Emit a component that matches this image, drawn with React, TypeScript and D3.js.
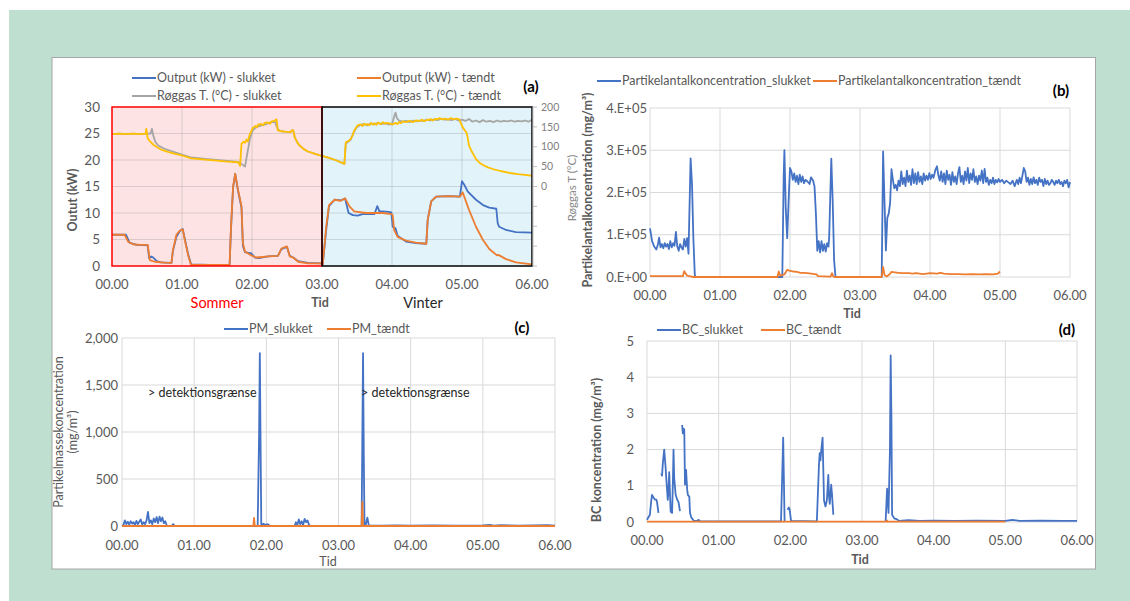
import * as d3 from "d3";

// time in hours (00.00 - 06.00)
type Pt = [number, number | null];

const hourTicks = [0, 1, 2, 3, 4, 5, 6];

// (a) output in kW
const outputSlukket: Pt[] = [
  [0, 5.9], [0.2, 5.9], [0.25, 4.4], [0.35, 4.0], [0.51, 3.9], [0.53, 1.5], [0.56, 1.8], [0.59, 1.6],
  [0.64, 0.9], [0.7, 0.7], [0.85, 0.6], [0.87, 2.8], [0.92, 5.5], [0.97, 6.6], [1.01, 7.0], [1.05, 4.5],
  [1.09, 2.1], [1.13, 0.3], [1.4, 0.2], [1.68, 0.2], [1.7, 7.0], [1.73, 14.8], [1.76, 17.4], [1.8, 14.2],
  [1.85, 11.0], [1.87, 3.8], [1.9, 2.6], [1.94, 2.5], [1.99, 2.4], [2.04, 1.6], [2.1, 1.5], [2.23, 1.8],
  [2.37, 1.9], [2.42, 3.2], [2.5, 3.6], [2.54, 1.9], [2.59, 1.6], [2.66, 0.9], [2.8, 0.6], [3.0, 0.5],
  [3.01, 0.2], [3.06, 6.8], [3.1, 11.3], [3.18, 12.5], [3.27, 12.4], [3.33, 12.7], [3.38, 10.0], [3.44, 9.6],
  [3.51, 9.5], [3.58, 9.8], [3.75, 9.8], [3.79, 11.3], [3.82, 10.3], [3.87, 10.3], [3.95, 10.2], [3.99, 10.1],
  [4.01, 7.4], [4.05, 7.1], [4.08, 5.7], [4.2, 4.6], [4.34, 4.3], [4.49, 4.2], [4.51, 8.7], [4.56, 12.2],
  [4.63, 13.1], [4.82, 13.2], [4.97, 13.1], [5.0, 16.0], [5.03, 15.4], [5.08, 14.1], [5.2, 12.5], [5.3, 11.5],
  [5.39, 11.0], [5.49, 10.8], [5.51, 8.1], [5.53, 7.4], [5.63, 6.8], [5.77, 6.4], [6.0, 6.3],
];
const outputTaendt: Pt[] = [
  [0, 5.9], [0.18, 5.9], [0.23, 4.6], [0.3, 4.1], [0.4, 4.0], [0.51, 4.0], [0.54, 1.1], [0.61, 0.8],
  [0.75, 0.65], [0.85, 0.6], [0.87, 3.0], [0.92, 5.9], [0.97, 6.7], [1.01, 6.9], [1.05, 4.3], [1.09, 1.9],
  [1.13, 0.2], [1.4, 0.2], [1.68, 0.2], [1.7, 7.4], [1.73, 15.0], [1.76, 17.4], [1.8, 14.4], [1.85, 11.3],
  [1.87, 4.3], [1.9, 2.7], [1.94, 2.4], [1.99, 2.0], [2.06, 1.6], [2.15, 1.7], [2.23, 1.8], [2.37, 1.9],
  [2.42, 3.3], [2.5, 3.7], [2.54, 1.8], [2.59, 1.6], [2.66, 0.8], [2.8, 0.5], [3.0, 0.5], [3.01, 0.2],
  [3.06, 7.4], [3.1, 11.5], [3.18, 12.5], [3.27, 12.3], [3.33, 12.8], [3.39, 11.3], [3.46, 10.3], [3.63, 10.0],
  [3.87, 10.0], [3.99, 9.8], [4.01, 9.6], [4.03, 6.8], [4.08, 5.5], [4.2, 4.8], [4.34, 4.4], [4.49, 4.2],
  [4.51, 8.7], [4.56, 12.2], [4.63, 13.1], [4.82, 13.2], [4.97, 13.1], [5.01, 13.9], [5.1, 10.6], [5.2, 7.4],
  [5.3, 4.9], [5.39, 3.2], [5.5, 2.0], [5.52, 2.1], [5.63, 1.3], [5.77, 0.7], [6.0, 0.3],
];

// (a) flue gas temperature in °C (right axis)
const roggasSlukket: Pt[] = [
  [0, 132], [0.1, 133], [0.2, 132], [0.3, 133], [0.4, 132], [0.5, 133], [0.55, 133], [0.57, 145], [0.59, 128],
  [0.62, 112], [0.66, 103], [0.75, 95], [0.9, 86], [1.13, 73], [1.37, 69], [1.61, 65], [1.8, 62], [1.85, 57],
  [1.9, 50], [1.92, 70], [1.95, 100], [1.97, 120], [2.01, 141], [2.05, 148], [2.1, 152], [2.2, 157], [2.28, 162],
  [2.33, 162], [2.37, 143], [2.42, 139], [2.47, 138], [2.55, 137], [2.57, 141], [2.59, 141], [2.61, 124],
  [2.65, 110], [2.68, 103], [2.74, 94], [2.8, 88], [2.9, 82], [3.0, 77], [3.1, 72], [3.2, 66], [3.28, 60],
  [3.32, 57], [3.34, 108], [3.37, 112], [3.41, 118], [3.45, 135], [3.5, 150], [3.55, 155], [3.6, 157],
  [3.65, 154], [3.7, 159], [3.75, 156], [3.8, 160], [3.85, 157], [3.9, 159], [3.95, 156], [4.0, 157],
  [4.03, 175], [4.05, 186], [4.07, 172], [4.1, 166], [4.15, 163], [4.2, 165], [4.25, 162], [4.3, 166],
  [4.35, 164], [4.4, 166], [4.45, 165], [4.5, 168], [4.55, 166], [4.6, 169], [4.65, 167], [4.7, 170],
  [4.75, 168], [4.8, 169], [4.85, 167], [4.9, 170], [4.95, 166], [5.0, 168], [5.05, 165], [5.1, 170],
  [5.15, 163], [5.2, 166], [5.25, 162], [5.3, 167], [5.35, 163], [5.4, 165], [5.45, 162], [5.5, 166],
  [5.55, 163], [5.6, 165], [5.65, 164], [5.7, 166], [5.75, 163], [5.8, 165], [5.85, 164], [5.9, 166],
  [5.95, 163], [6.0, 168],
];
const roggasTaendt: Pt[] = [
  [0, 132], [0.1, 133], [0.2, 132], [0.3, 133], [0.4, 132], [0.48, 133], [0.49, 145], [0.51, 121], [0.55, 112],
  [0.59, 105], [0.65, 98], [0.7, 93], [0.8, 87], [0.9, 82], [1.0, 78], [1.13, 71], [1.25, 69], [1.37, 67],
  [1.5, 65], [1.61, 63], [1.7, 62], [1.8, 61], [1.82, 56], [1.83, 52], [1.85, 107], [1.88, 113], [1.9, 110],
  [1.92, 118], [1.94, 113], [1.97, 132], [2.01, 147], [2.05, 152], [2.07, 149], [2.09, 156], [2.13, 157],
  [2.16, 154], [2.18, 160], [2.23, 161], [2.26, 158], [2.28, 164], [2.32, 165], [2.35, 169], [2.37, 141],
  [2.42, 139], [2.47, 138], [2.55, 137], [2.57, 141], [2.59, 141], [2.61, 124], [2.65, 110], [2.68, 103],
  [2.74, 94], [2.8, 88], [2.9, 82], [3.0, 77], [3.1, 72], [3.2, 66], [3.28, 60], [3.32, 57], [3.34, 111],
  [3.37, 114], [3.39, 116], [3.41, 120], [3.44, 130], [3.46, 141], [3.51, 154], [3.55, 156], [3.58, 152],
  [3.6, 158], [3.63, 155], [3.65, 157], [3.68, 154], [3.7, 160], [3.73, 156], [3.75, 159], [3.78, 155],
  [3.8, 161], [3.84, 157], [3.87, 162], [3.9, 158], [3.93, 160], [3.97, 158], [4.01, 156], [4.05, 160],
  [4.08, 157], [4.1, 162], [4.13, 159], [4.15, 164], [4.2, 162], [4.25, 165], [4.3, 162], [4.34, 166],
  [4.4, 165], [4.43, 168], [4.46, 164], [4.5, 168], [4.52, 167], [4.55, 170], [4.58, 166], [4.62, 170],
  [4.65, 169], [4.68, 172], [4.72, 169], [4.76, 171], [4.8, 168], [4.84, 172], [4.88, 169], [4.92, 171],
  [4.96, 169], [5.01, 149], [5.04, 141], [5.06, 137], [5.08, 125], [5.1, 103], [5.14, 88], [5.2, 69],
  [5.25, 60], [5.3, 54], [5.37, 48], [5.44, 44], [5.55, 39], [5.68, 34], [5.8, 31], [5.9, 29], [6.0, 27],
];

// (b) particle number, in units of 1E+05
const antalSlukket: Pt[] = [
  [0, 1.15], [0.03, 0.85], [0.06, 0.72], [0.09, 0.65], [0.11, 0.75], [0.13, 0.93], [0.15, 0.7], [0.17, 0.78],
  [0.19, 0.68], [0.21, 0.8], [0.23, 0.72], [0.25, 0.78], [0.27, 0.66], [0.29, 0.85], [0.31, 0.7], [0.33, 0.8],
  [0.35, 0.74], [0.37, 1.07], [0.39, 0.72], [0.41, 0.62], [0.43, 0.78], [0.45, 0.7], [0.47, 0.65], [0.49, 0.9],
  [0.51, 0.72], [0.53, 0.92], [0.55, 0.55], [0.58, 2.81], [0.6, 2.2], [0.62, 0.9], [0.64, 0.05], [0.65, 0],
  [1.89, 0], [1.91, 2.4], [1.92, 3.0], [1.94, 1.6], [1.96, 0.92], [1.98, 1.8], [2.0, 2.58], [2.02, 2.5],
  [2.04, 2.3], [2.06, 2.45], [2.08, 2.25], [2.1, 2.4], [2.12, 2.2], [2.14, 2.42], [2.16, 2.25], [2.18, 2.38],
  [2.2, 2.22], [2.22, 2.3], [2.25, 2.26], [2.28, 2.2], [2.3, 2.36], [2.33, 2.28], [2.35, 2.15], [2.37, 1.5],
  [2.39, 0.62], [2.41, 0.85], [2.43, 0.58], [2.45, 0.85], [2.47, 0.62], [2.49, 0.78], [2.51, 0.6], [2.53, 0.8],
  [2.55, 0.72], [2.56, 0.95], [2.58, 2.2], [2.59, 2.8], [2.61, 1.8], [2.63, 0.4], [2.65, 0], [3.31, 0],
  [3.33, 2.97], [3.35, 1.8], [3.37, 0.63], [3.39, 1.4], [3.41, 1.5], [3.43, 1.75], [3.45, 2.55], [3.47, 2.3],
  [3.49, 2.1], [3.51, 2.18], [3.53, 2.05], [3.55, 2.28], [3.57, 2.15], [3.59, 2.5], [3.61, 2.2], [3.63, 2.35],
  [3.65, 2.15], [3.67, 2.52], [3.69, 2.25], [3.71, 2.4], [3.73, 2.18], [3.75, 2.55], [3.77, 2.22], [3.79, 2.45],
  [3.81, 2.2], [3.83, 2.48], [3.85, 2.25], [3.87, 2.38], [3.89, 2.2], [3.91, 2.45], [3.93, 2.28], [3.95, 2.4],
  [3.97, 2.3], [3.99, 2.46], [4.01, 2.32], [4.03, 2.42], [4.05, 2.35], [4.08, 2.55], [4.1, 2.62], [4.12, 2.4],
  [4.14, 2.28], [4.16, 2.5], [4.18, 2.25], [4.2, 2.45], [4.22, 2.2], [4.24, 2.52], [4.26, 2.3], [4.28, 2.42],
  [4.3, 2.18], [4.32, 2.48], [4.34, 2.25], [4.36, 2.38], [4.38, 2.2], [4.4, 2.45], [4.42, 2.6], [4.44, 2.25],
  [4.46, 2.4], [4.48, 2.2], [4.5, 2.5], [4.52, 2.28], [4.54, 2.58], [4.56, 2.22], [4.58, 2.45], [4.6, 2.3],
  [4.62, 2.55], [4.64, 2.25], [4.66, 2.38], [4.68, 2.2], [4.7, 2.4], [4.72, 2.28], [4.74, 2.52], [4.76, 2.22],
  [4.78, 2.56], [4.8, 2.25], [4.82, 2.35], [4.84, 2.18], [4.86, 2.3], [4.88, 2.22], [4.9, 2.35], [4.92, 2.2],
  [4.94, 2.3], [4.96, 2.24], [4.98, 2.32], [5.0, 2.25], [5.03, 2.3], [5.06, 2.22], [5.09, 2.28], [5.12, 2.24],
  [5.15, 2.2], [5.18, 2.28], [5.21, 2.15], [5.24, 2.3], [5.26, 2.2], [5.28, 2.35], [5.3, 2.22], [5.32, 2.4],
  [5.34, 2.58], [5.36, 2.5], [5.38, 2.25], [5.4, 2.35], [5.42, 2.18], [5.44, 2.32], [5.46, 2.2], [5.48, 2.36],
  [5.5, 2.22], [5.52, 2.3], [5.54, 2.18], [5.56, 2.35], [5.58, 2.25], [5.6, 2.3], [5.62, 2.15], [5.64, 2.32],
  [5.66, 2.2], [5.68, 2.28], [5.7, 2.18], [5.72, 2.22], [5.74, 2.3], [5.76, 2.25], [5.78, 2.18], [5.8, 2.28],
  [5.82, 2.22], [5.84, 2.3], [5.86, 2.2], [5.88, 2.25], [5.9, 2.15], [5.92, 2.28], [5.94, 2.22], [5.96, 2.3],
  [5.98, 2.12], [6.0, 2.25],
];
const antalTaendt: Pt[] = [
  [0, 0.02], [0.47, 0.02], [0.49, 0.14], [0.51, 0.08], [0.53, 0.03], [0.56, 0.02], [0.62, 0], [1.82, 0],
  [1.84, 0.13], [1.86, 0.03], [1.88, 0.04], [1.92, 0.06], [1.96, 0.17], [1.99, 0.15], [2.05, 0.13], [2.1, 0.12],
  [2.15, 0.1], [2.2, 0.1], [2.25, 0.09], [2.3, 0.08], [2.35, 0.07], [2.38, 0.06], [2.4, 0.02], [2.58, 0.01],
  [2.6, 0.09], [2.62, 0.01], [2.65, 0], [3.31, 0], [3.33, 0.24], [3.35, 0.05], [3.38, 0.01], [3.42, 0.06],
  [3.45, 0.12], [3.5, 0.11], [3.55, 0.1], [3.6, 0.09], [3.7, 0.09], [3.75, 0.08], [3.8, 0.09], [3.9, 0.07],
  [4.0, 0.09], [4.1, 0.08], [4.15, 0.1], [4.2, 0.08], [4.3, 0.07], [4.4, 0.07], [4.5, 0.06], [4.6, 0.07],
  [4.7, 0.06], [4.8, 0.07], [4.9, 0.06], [4.97, 0.08], [5.0, 0.13],
];

// (c) particle mass, mg/m³
const pmSlukket: Pt[] = [
  [0, 0], [0.02, 10], [0.04, 60], [0.06, 20], [0.08, 45], [0.1, 15], [0.12, 50], [0.14, 25], [0.16, 40],
  [0.18, 10], [0.2, 55], [0.22, 20], [0.24, 45], [0.26, 70], [0.28, 15], [0.3, 40], [0.32, 20], [0.34, 60],
  [0.36, 150], [0.38, 30], [0.4, 60], [0.42, 20], [0.44, 80], [0.46, 40], [0.48, 95], [0.5, 30], [0.52, 100],
  [0.54, 50], [0.56, 90], [0.58, 30], [0.6, 50], [0.62, 5], [0.64, 0], [0.69, 0], [0.71, 20], [0.73, 0],
  [1.88, 0], [1.9, 1000], [1.91, 1840], [1.92, 900], [1.93, 0], [1.96, 25], [1.99, 10], [2.02, 20], [2.05, 0],
  [2.39, 0], [2.41, 40], [2.43, 10], [2.45, 70], [2.47, 20], [2.49, 50], [2.51, 10], [2.53, 75], [2.55, 40],
  [2.57, 60], [2.59, 15], [2.61, 0], [3.32, 0], [3.33, 900], [3.34, 1840], [3.35, 800], [3.36, 0], [3.38, 20],
  [3.4, 90], [3.42, 5], [3.6, 4], [3.8, 6], [4.0, 4], [4.3, 6], [4.6, 5], [5.0, 6], [5.1, 12], [5.15, 4],
  [5.25, 8], [5.5, 5], [5.9, 8], [6.0, 4],
];
const pmTaendt: Pt[] = [
  [0, 0], [1.82, 0], [1.83, 85], [1.84, 0], [3.32, 0], [3.33, 260], [3.34, 0], [6.0, 0],
];

// (d) black carbon, mg/m³ (null = gap in the series)
const bcSlukket: Pt[] = [
  [0, 0.06], [0.02, 0.13], [0.04, 0.2], [0.06, 0.6], [0.07, 0.75], [0.09, 0.68], [0.11, 0.62], [0.13, 0.62],
  [0.14, 0.55], [0.16, 0.25], [0.18, null], [0.2, 1.35], [0.21, 1.28], [0.22, 1.6], [0.24, 2.0], [0.26, 1.5],
  [0.27, 1.17], [0.29, 0.61], [0.3, 0.9], [0.31, 1.38], [0.32, 0.8], [0.33, 0.29], [0.35, 0.25], [0.36, 1.0],
  [0.37, 2.0], [0.38, 1.2], [0.4, 0.75], [0.42, 0.62], [0.44, 0.55], [0.46, 0.3], [0.47, null], [0.49, 2.68],
  [0.5, 2.45], [0.51, 2.58], [0.52, 2.55], [0.53, 1.03], [0.545, 1.44], [0.56, 0.9], [0.57, 0.75], [0.59, 0.7],
  [0.6, 0.25], [0.62, 0.12], [0.65, 0.04], [0.7, 0.03], [0.72, 0.06], [0.74, 0.02], [1.87, 0.02], [1.9, 2.33],
  [1.92, 0.02], [1.94, null], [1.96, 0.34], [1.98, 0.4], [1.99, 0.35], [2.01, 0.03], [2.37, 0.02], [2.4, 1.6],
  [2.41, 1.9], [2.42, 1.7], [2.43, 1.95], [2.45, 2.33], [2.47, 0.6], [2.49, 0.43], [2.51, 0.6], [2.53, 1.3],
  [2.54, 0.7], [2.55, 0.5], [2.57, 1.03], [2.58, 0.8], [2.6, 0.2], [2.62, null], [3.33, 0.02], [3.35, 0.92],
  [3.36, 0.6], [3.37, 0.25], [3.39, 2.0], [3.4, 4.6], [3.41, 3.0], [3.42, 0.2], [3.45, 0.1], [3.48, 0.08],
  [3.52, 0.03], [3.65, 0.05], [3.8, 0.03], [4.0, 0.04], [4.3, 0.03], [4.6, 0.04], [5.0, 0.03], [5.1, 0.06],
  [5.2, 0.03], [5.5, 0.04], [5.8, 0.03], [6.0, 0.03],
];
const bcTaendt: Pt[] = [
  [0, 0.01], [3.34, 0.01], [3.35, 0.04], [3.36, 0.01], [5.0, 0.01],
];

const panelATempTicks = [-200, -150, -100, -50, 0, 50, 100, 150, 200];

const BLUE = "#4472c4";
const ORANGE = "#ed7d31";
const GREY = "#a5a5a5";
const YELLOW = "#ffc000";
const TXT = "#595959";
const GRID = "#d9d9d9";
const FONT = "Lato, 'Open Sans', sans-serif";
const FS = 12.5;

const hourFmt = (h: number) => `0${h}.00`;

function Series({ data, x, y, color, width = 1.8 }: { data: Pt[]; x: d3.ScaleLinear<number, number>; y: d3.ScaleLinear<number, number>; color: string; width?: number }) {
  const line = d3
    .line<Pt>()
    .defined((d) => d[1] != null)
    .x((d) => x(d[0]))
    .y((d) => y(d[1] as number));
  return <path d={line(data) ?? ""} fill="none" stroke={color} strokeWidth={width} strokeLinejoin="round" />;
}

function LegendItem({ x, y, color, label }: { x: number; y: number; color: string; label: string }) {
  return (
    <g>
      <line x1={x} x2={x + 24} y1={y} y2={y} stroke={color} strokeWidth={2} />
      <text x={x + 25} y={y} dy="0.35em" fontSize={FS} fill={TXT}>{label}</text>
    </g>
  );
}

function VLabel({ x, y, text, bold = false, size = FS, color = TXT }: { x: number; y: number; text: string; bold?: boolean; size?: number; color?: string }) {
  return (
    <text transform={`translate(${x},${y}) rotate(-90)`} textAnchor="middle" dy="0.35em" fontSize={size} fontWeight={bold ? 700 : 400} fill={color}>
      {text}
    </text>
  );
}

function PanelA() {
  const x = d3.scaleLinear().domain([0, 6]).range([112, 532]);
  const y = d3.scaleLinear().domain([0, 30]).range([266, 107]);
  const yT = d3.scaleLinear().domain([-200, 200]).range([266, 107]);
  const yTicks = d3.range(0, 31, 5);
  return (
    <g>
      <rect x={x(0)} y={y(30)} width={x(3) - x(0)} height={y(0) - y(30)} fill="#fde3e3" />
      <rect x={x(3)} y={y(30)} width={x(6) - x(3)} height={y(0) - y(30)} fill="#e2f3fa" />
      {yTicks.slice(1, -1).map((t) => (
        <line key={t} x1={x(0)} x2={x(6)} y1={y(t)} y2={y(t)} stroke="rgba(110,110,110,0.22)" strokeWidth={1} />
      ))}
      {[1, 2, 4, 5].map((h) => (
        <line key={h} x1={x(h)} x2={x(h)} y1={y(0)} y2={y(30)} stroke="rgba(110,110,110,0.22)" strokeWidth={1} />
      ))}
      <Series data={outputSlukket} x={x} y={y} color={BLUE} />
      <Series data={outputTaendt} x={x} y={y} color={ORANGE} />
      <Series data={roggasSlukket} x={x} y={yT} color={GREY} />
      <Series data={roggasTaendt} x={x} y={yT} color={YELLOW} />
      <rect x={x(0)} y={y(30)} width={x(3) - x(0)} height={y(0) - y(30)} fill="none" stroke="#ff0000" strokeWidth={1.5} />
      <rect x={x(3)} y={y(30)} width={x(6) - x(3)} height={y(0) - y(30)} fill="none" stroke="#000" strokeWidth={1.5} />
      {yTicks.map((t) => (
        <text key={t} x={100} y={y(t)} dy="0.35em" textAnchor="end" fontSize={13.5} fill={TXT}>{t}</text>
      ))}
      <line x1={x(6) + 1} x2={x(6) + 1} y1={yT(-200)} y2={yT(200)} stroke="#bfbfbf" />
      {panelATempTicks.map((t) => (
        <g key={t}>
          <line x1={x(6) + 1} x2={x(6) + 5} y1={yT(t)} y2={yT(t)} stroke="#bfbfbf" />
          {t >= 0 && (
            <text x={x(6) + 9} y={yT(t)} dy="0.35em" fontSize={10.5} fill="#7f7f7f">{t}</text>
          )}
        </g>
      ))}
      {hourTicks.map((h) => (
        <text key={h} x={x(h)} y={284} dy="0.35em" textAnchor="middle" fontSize={13} fill={TXT}>{hourFmt(h)}</text>
      ))}
      <text x={217} y={303} dy="0.35em" textAnchor="middle" fontSize={14.5} fill="#ff0000">Sommer</text>
      <text x={320} y={303} dy="0.35em" textAnchor="middle" fontSize={FS} fontWeight={700} fill={TXT}>Tid</text>
      <text x={423} y={303} dy="0.35em" textAnchor="middle" fontSize={14.5} fill="#262626">Vinter</text>
      <VLabel x={73} y={200} text="Outut (kW)" bold />
      <VLabel x={572} y={188} text="Røggas T (°C)" size={11.5} color="#8c8c8c" />
      <LegendItem x={132} y={78} color={BLUE} label="Output (kW) - slukket" />
      <LegendItem x={357} y={78} color={ORANGE} label="Output (kW) - tændt" />
      <LegendItem x={132} y={96} color={GREY} label="Røggas T. (°C) - slukket" />
      <LegendItem x={357} y={96} color={YELLOW} label="Røggas T. (°C) - tændt" />
      <text x={531} y={87} dy="0.35em" textAnchor="middle" fontSize={15} fontWeight={700} fill="#000">(a)</text>
    </g>
  );
}

function GridPanel({
  x0, x1, yBottom, yTop, domainMax, step, fmt, labelX, xLabelY, slukket, taendt,
}: {
  x0: number; x1: number; yBottom: number; yTop: number; domainMax: number; step: number;
  fmt: (v: number) => string; labelX: number; xLabelY: number; slukket: Pt[]; taendt: Pt[];
}) {
  const x = d3.scaleLinear().domain([0, 6]).range([x0, x1]);
  const y = d3.scaleLinear().domain([0, domainMax]).range([yBottom, yTop]);
  const yTicks = d3.range(0, domainMax + step / 2, step);
  return (
    <g>
      {yTicks.map((t) => (
        <line key={t} x1={x0} x2={x1} y1={y(t)} y2={y(t)} stroke={GRID} />
      ))}
      {hourTicks.map((h) => (
        <line key={h} x1={x(h)} x2={x(h)} y1={yBottom} y2={yTop} stroke={GRID} />
      ))}
      {yTicks.map((t) => (
        <text key={t} x={labelX} y={y(t)} dy="0.35em" textAnchor="end" fontSize={13} fill={TXT}>{fmt(t)}</text>
      ))}
      {hourTicks.map((h) => (
        <text key={h} x={x(h)} y={xLabelY} dy="0.35em" textAnchor="middle" fontSize={13} fill={TXT}>{hourFmt(h)}</text>
      ))}
      <Series data={slukket} x={x} y={y} color={BLUE} />
      <Series data={taendt} x={x} y={y} color={ORANGE} />
    </g>
  );
}

export default function App() {
  return (
    <svg width={1130} height={601} style={{ position: "absolute", left: 0, top: 0, fontFamily: FONT }}>
      <rect x={0} y={0} width={1130} height={601} fill="#fff" />
      <rect x={9} y={10} width={1121} height={591} fill="#bfe0d1" />
      <rect x={52} y={57.5} width={1043.5} height={511.5} fill="#fff" stroke="#a6a6a6" />

      <PanelA />

      {/* (b) particle number */}
      <GridPanel x0={650} x1={1070} yBottom={277} yTop={108} domainMax={4} step={1}
        fmt={(v) => (v === 0 ? "0.E+00" : `${v}.E+05`)} labelX={647} xLabelY={295}
        slukket={antalSlukket} taendt={antalTaendt} />
      <LegendItem x={597} y={81} color={BLUE} label="Partikelantalkoncentration_slukket" />
      <LegendItem x={813} y={81} color={ORANGE} label="Partikelantalkoncentration_tændt" />
      <text x={1061} y={91} dy="0.35em" textAnchor="middle" fontSize={15} fontWeight={700} fill="#000">(b)</text>
      <text x={852} y={314} dy="0.35em" textAnchor="middle" fontSize={FS} fontWeight={700} fill={TXT}>Tid</text>
      <VLabel x={588} y={190} text="Partikelantalkoncentration (mg/m³)" bold />

      {/* (c) particle mass */}
      <GridPanel x0={122} x1={555} yBottom={526} yTop={338} domainMax={2000} step={500}
        fmt={d3.format(",")} labelX={118} xLabelY={545}
        slukket={pmSlukket} taendt={pmTaendt} />
      <LegendItem x={224} y={329} color={BLUE} label="PM_slukket" />
      <LegendItem x={327} y={329} color={ORANGE} label="PM_tændt" />
      <text x={522} y={328} dy="0.35em" textAnchor="middle" fontSize={15} fontWeight={700} fill="#000">(c)</text>
      <text x={148} y={393} dy="0.35em" fontSize={FS} fill="#262626">&gt; detektionsgrænse</text>
      <text x={361} y={393} dy="0.35em" fontSize={FS} fill="#262626">&gt; detektionsgrænse</text>
      <text x={328} y={562} dy="0.35em" textAnchor="middle" fontSize={FS} fill={TXT}>Tid</text>
      <VLabel x={59} y={432} text="Partikelmassekoncentration" />
      <VLabel x={73} y={432} text="(mg/m³)" />

      {/* (d) black carbon */}
      <GridPanel x0={647} x1={1077} yBottom={522} yTop={341} domainMax={5} step={1}
        fmt={(v) => String(v)} labelX={634} xLabelY={540}
        slukket={bcSlukket} taendt={bcTaendt} />
      <LegendItem x={657} y={330} color={BLUE} label="BC_slukket" />
      <LegendItem x={761} y={330} color={ORANGE} label="BC_tændt" />
      <text x={1067} y={330} dy="0.35em" textAnchor="middle" fontSize={15} fontWeight={700} fill="#000">(d)</text>
      <text x={860} y={560} dy="0.35em" textAnchor="middle" fontSize={FS} fontWeight={700} fill={TXT}>Tid</text>
      <VLabel x={597} y={450} text="BC koncentration (mg/m³)" bold />
    </svg>
  );
}
